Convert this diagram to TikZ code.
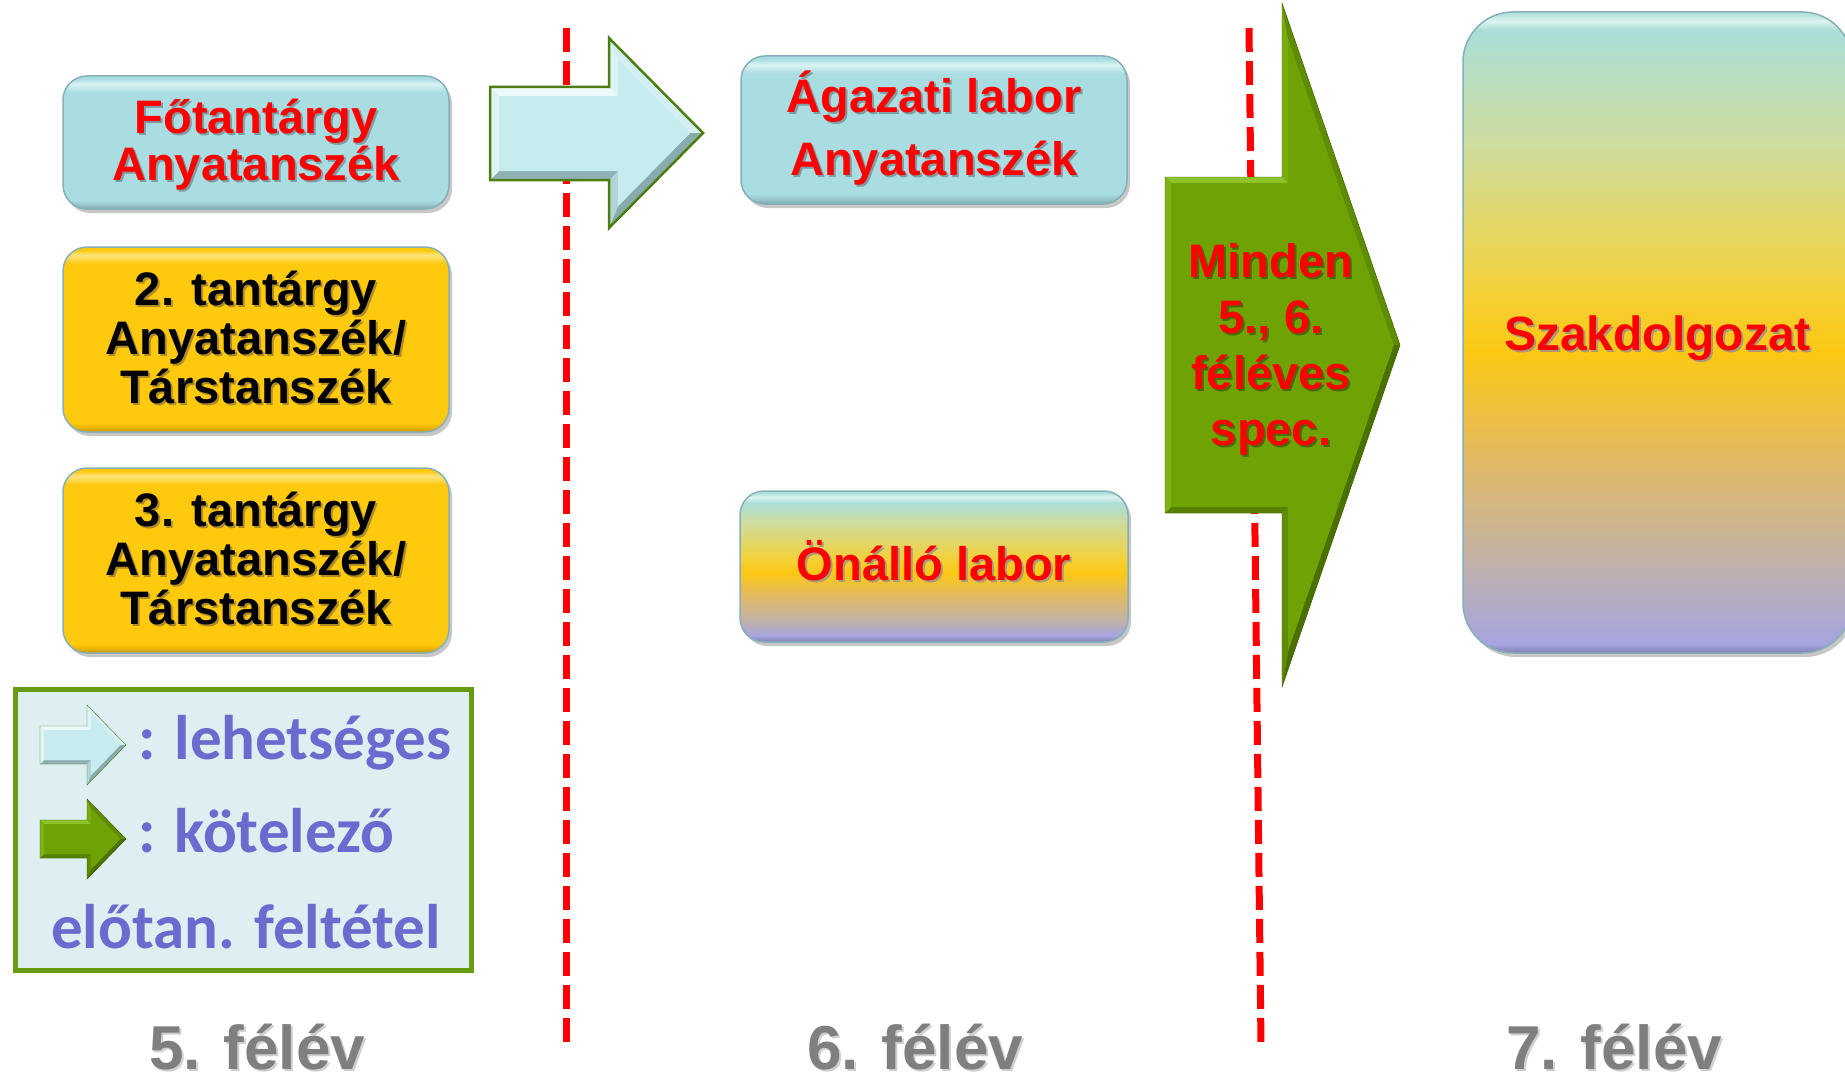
\documentclass[tikz,border=0pt]{standalone}
\usepackage{fontspec}
\setmainfont{Liberation Sans}
\newfontfamily\calfont{Carlito}
\usetikzlibrary{shadows}

% box colours
\definecolor{blBase}{HTML}{A9DDE1}
\definecolor{blTop}{HTML}{DAF3F5}
\definecolor{blBotM}{HTML}{95C5CB}
\definecolor{blBot}{HTML}{7AA9B0}
\definecolor{yBase}{HTML}{FFC90D}
\definecolor{yTop}{HTML}{FFE47E}
\definecolor{yBotM}{HTML}{E8B400}
\definecolor{yBot}{HTML}{C29500}
\definecolor{mBotE}{HTML}{8080B2}
\definecolor{mLav}{HTML}{A5A5E0}
\definecolor{mLtwo}{HTML}{C3B2A5}
\definecolor{mTan}{HTML}{E1B964}
\definecolor{mGold}{HTML}{FCC814}
\definecolor{mYel}{HTML}{F5D037}
\definecolor{mYG}{HTML}{E4D664}
\definecolor{mGr}{HTML}{CDDCA0}
\definecolor{mAqua}{HTML}{AADED8}
\definecolor{mTopH}{HTML}{DDF3F0}
\definecolor{edgeC}{HTML}{86B0B8}
% text colours
\definecolor{legC}{HTML}{6B6BCF}
\definecolor{semC}{HTML}{7F7F7F}
\definecolor{shBlue}{HTML}{7E9EA3}
\definecolor{shY}{HTML}{B08C28}
\definecolor{shG}{HTML}{4A6A10}
\definecolor{shM}{HTML}{AA9A78}
\definecolor{shW}{HTML}{CFCFCF}
\colorlet{shc}{shBlue}
% legend
\definecolor{lgGreen}{HTML}{689C10}
\definecolor{lgFill}{HTML}{DDEFF1}
% light arrow faces
\definecolor{labase}{HTML}{C6ECEF}
\definecolor{latop}{HTML}{EDFAFB}
\definecolor{laleft}{HTML}{DDF3F5}
\definecolor{labc}{HTML}{DDF3F5}
\definecolor{lact}{HTML}{D3EFF1}
\definecolor{late}{HTML}{8AABAE}
\definecolor{laef}{HTML}{B3D5D8}
\definecolor{labot}{HTML}{8FB1B4}
\definecolor{laline}{HTML}{4E7D10}
% green arrow faces
\definecolor{gabase}{HTML}{6FA204}
\definecolor{gatop}{HTML}{8DC22A}
\definecolor{galeft}{HTML}{7DB312}
\definecolor{gabc}{HTML}{79AD0F}
\definecolor{gact}{HTML}{5E8C02}
\definecolor{gate}{HTML}{4A7000}
\definecolor{gaef}{HTML}{5E8C03}
\definecolor{gabot}{HTML}{557F05}
\definecolor{galine}{HTML}{3D5C00}

\pgfdeclareverticalshading{blueshade}{100bp}{color(0bp)=(blBot); color(25bp)=(blBot); color(26.5bp)=(blBotM); color(28.5bp)=(blBase); color(69bp)=(blBase); color(72bp)=(blTop); color(74bp)=(blBase); color(75bp)=(blBase); color(100bp)=(blBase)}
\pgfdeclareverticalshading{yellowshade}{100bp}{color(0bp)=(yBot); color(25bp)=(yBot); color(26.2bp)=(yBotM); color(27.5bp)=(yBase); color(70.5bp)=(yBase); color(72.8bp)=(yTop); color(74.2bp)=(yBase); color(75bp)=(yBase); color(100bp)=(yBase)}
\pgfdeclareverticalshading{multishadeA}{100bp}{color(0bp)=(mBotE); color(25bp)=(mBotE); color(27bp)=(mLav); color(32.5bp)=(mLtwo); color(40bp)=(mTan); color(48bp)=(mGold); color(52.5bp)=(mYel); color(57.5bp)=(mYG); color(65bp)=(mGr); color(71bp)=(mAqua); color(73bp)=(mTopH); color(74.5bp)=(mAqua); color(100bp)=(mAqua)}
\pgfdeclareverticalshading{multishadeB}{100bp}{color(0bp)=(mBotE); color(25bp)=(mBotE); color(25.7bp)=(mLav); color(32.5bp)=(mLtwo); color(40bp)=(mTan); color(48.5bp)=(mGold); color(53bp)=(mYel); color(58bp)=(mYG); color(65bp)=(mGr); color(73.6bp)=(mAqua); color(74.3bp)=(mTopH); color(75bp)=(mAqua); color(100bp)=(mAqua)}

\newcommand\sh[1]{\leavevmode\rlap{\kern2pt\raisebox{-2pt}{\textcolor{shc}{#1}}}#1}
\newcommand\txl[1]{\rule[-0.2\baselineskip]{0pt}{\baselineskip}\smash{\sh{#1}}}
\newcommand\txlx[3]{\rule[-\dimexpr0.2\baselineskip+#2\relax]{0pt}{\dimexpr\baselineskip+#1+#2\relax}\smash{\sh{#3}}}

\newcommand\bevelarrow[2]{%
  \fill[#2base] (#1A) -- (#1B) -- (#1C) -- (#1T) -- (#1E) -- (#1F) -- (#1G) -- cycle;
  \fill[#2top] (#1A) -- (#1B) -- (#1Bi) -- (#1Ai) -- cycle;
  \fill[#2bc] (#1B) -- (#1C) -- (#1Ci) -- (#1Bi) -- cycle;
  \fill[#2ct] (#1C) -- (#1T) -- (#1Ti) -- (#1Ci) -- cycle;
  \fill[#2te] (#1T) -- (#1E) -- (#1Ei) -- (#1Ti) -- cycle;
  \fill[#2ef] (#1E) -- (#1F) -- (#1Fi) -- (#1Ei) -- cycle;
  \fill[#2bot] (#1F) -- (#1G) -- (#1Gi) -- (#1Fi) -- cycle;
  \fill[#2left] (#1G) -- (#1A) -- (#1Ai) -- (#1Gi) -- cycle;
  \fill[#2base] (#1Ai) -- (#1Bi) -- (#1Ci) -- (#1Ti) -- (#1Ei) -- (#1Fi) -- (#1Gi) -- cycle;
  \draw[#2line, line join=miter] (#1A) -- (#1B) -- (#1C) -- (#1T) -- (#1E) -- (#1F) -- (#1G) -- cycle;
}

\begin{document}
\begin{tikzpicture}[x=1pt,y=-1pt,
  reddash/.style={draw=red, line width=7pt, dash pattern=on 24pt off 9pt},
  boxbase/.style={rounded corners=24pt, draw=edgeC, line width=1.5pt, inner sep=0pt, align=center,
    drop shadow={shadow xshift=3pt, shadow yshift=-4pt, opacity=0.22, fill=black}},
  bluebox/.style={boxbase, shade, shading=blueshade, text=red, minimum width=386pt},
  yellowbox/.style={boxbase, shade, shading=yellowshade, text=black, minimum width=386pt,
    minimum height=185pt, font={\fontsize{47}{49}\selectfont\bfseries\colorlet{shc}{shY}}},
  legtext/.style={text=legC, inner sep=0pt, font={\fontsize{63}{63}\selectfont\calfont\bfseries}},
  semtext/.style={text=semC, inner sep=0pt, anchor=base, font={\fontsize{62}{62}\selectfont\bfseries\colorlet{shc}{shW}}}
]
\useasboundingbox (0,0) rectangle (1845,1081);
\fill[white] (0,0) rectangle (1845,1081);

% semester dividers
\coordinate (d1t) at (566,28);
\coordinate (d1b) at (566,1044);
\coordinate (d2t) at (1249,28);
\coordinate (d2b) at (1261,1044);
\draw[reddash] (d1t) -- (d1b);
\draw[reddash] (d2t) -- (d2b);

% 5th semester boxes
\node[bluebox, minimum height=133pt, font={\fontsize{47}{47}\selectfont\bfseries\colorlet{shc}{shBlue}}]
  (fo) at (256,142.5) {\txl{Főtantárgy}\\\txl{Anyatanszék}};
\node[yellowbox] (t2) at (256,339.5) {\txl{2. tantárgy}\\\txl{Anyatanszék/}\\\txl{Társtanszék}};
\node[yellowbox] (t3) at (256,560.5) {\txl{3. tantárgy}\\\txl{Anyatanszék/}\\\txl{Társtanszék}};

% 6th semester boxes
\node[bluebox, minimum width=386pt, minimum height=148pt, font={\fontsize{47}{63}\selectfont\bfseries\colorlet{shc}{shBlue}}]
  (ag) at (934,130) {\txl{Ágazati labor}\\\txlx{0pt}{10.8pt}{Anyatanszék}};
\node[boxbase, shade, shading=multishadeA, text=red, minimum width=388pt, minimum height=151pt,
  font={\fontsize{47}{48}\selectfont\bfseries\colorlet{shc}{shM}}]
  (on) at (934,566.5) {\txl{Önálló labor}};

% 7th semester box
\node[boxbase, rounded corners=50pt, shade, shading=multishadeB, text=red, minimum width=389pt, minimum height=641pt,
  font={\fontsize{48}{48}\selectfont\bfseries\colorlet{shc}{shM}}]
  (sz) at (1657.5,332.5) {\txlx{6.2pt}{0pt}{Szakdolgozat}};

% light (possible) arrow
\coordinate (laA) at (490,87);  \coordinate (laAi) at (499,96);
\coordinate (laB) at (609,87);  \coordinate (laBi) at (618,96);
\coordinate (laC) at (609,38);  \coordinate (laCi) at (618,59.9);
\coordinate (laT) at (703,133); \coordinate (laTi) at (690.3,133);
\coordinate (laE) at (609,228); \coordinate (laEi) at (618,206.1);
\coordinate (laF) at (609,180); \coordinate (laFi) at (618,171);
\coordinate (laG) at (490,180); \coordinate (laGi) at (499,171);
\bevelarrow{la}{la}
\draw[laline, line width=2.5pt, line join=miter] (laA) -- (laB) -- (laC) -- (laT) -- (laE) -- (laF) -- (laG) -- cycle;

% green (mandatory) arrow
\coordinate (gaA) at (1165,177);  \coordinate (gaAi) at (1171,183);
\coordinate (gaB) at (1282,177);  \coordinate (gaBi) at (1288,183);
\coordinate (gaC) at (1282,3);    \coordinate (gaCi) at (1288,38.8);
\coordinate (gaT) at (1400,345);  \coordinate (gaTi) at (1393.7,345);
\coordinate (gaE) at (1282,687);  \coordinate (gaEi) at (1288,651.2);
\coordinate (gaF) at (1282,513);  \coordinate (gaFi) at (1288,507);
\coordinate (gaG) at (1165,513);  \coordinate (gaGi) at (1171,507);
\bevelarrow{ga}{ga}
\node[text=red, align=center, inner sep=0pt,
  font={\fontsize{47}{56.3}\selectfont\bfseries\colorlet{shc}{shG}}]
  (minden) at (1271,344.6) {\txl{Minden}\\\txl{5., 6.}\\\txl{féléves}\\\txl{spec.}};

% legend
\node[draw=lgGreen, line width=5pt, fill=lgFill, minimum width=456pt, minimum height=281pt, inner sep=0pt]
  (legend) at (243.5,830) {};
\coordinate (l1A) at (40,726);   \coordinate (l1Ai) at (44,730);
\coordinate (l1B) at (87,726);   \coordinate (l1Bi) at (91,730);
\coordinate (l1C) at (87,705);   \coordinate (l1Ci) at (91,714.8);
\coordinate (l1T) at (126,745);  \coordinate (l1Ti) at (120.4,745);
\coordinate (l1E) at (87,785);   \coordinate (l1Ei) at (91,775.2);
\coordinate (l1F) at (87,764);   \coordinate (l1Fi) at (91,760);
\coordinate (l1G) at (40,764);   \coordinate (l1Gi) at (44,760);
\bevelarrow{l1}{la}
\coordinate (l2A) at (40,820);   \coordinate (l2Ai) at (44,824);
\coordinate (l2B) at (87,820);   \coordinate (l2Bi) at (91,824);
\coordinate (l2C) at (87,799);   \coordinate (l2Ci) at (91,808.8);
\coordinate (l2T) at (126,839);  \coordinate (l2Ti) at (120.4,839);
\coordinate (l2E) at (87,879);   \coordinate (l2Ei) at (91,869.2);
\coordinate (l2F) at (87,858);   \coordinate (l2Fi) at (91,854);
\coordinate (l2G) at (40,858);   \coordinate (l2Gi) at (44,854);
\bevelarrow{l2}{ga}
\node[legtext, anchor=base west] (leg1) at (138,759) {: lehetséges};
\node[legtext, anchor=base west] (leg2) at (138,852) {: kötelező};
\node[legtext, anchor=base] (leg3) at (246,948) {előtan. feltétel};

% semester labels
\node[semtext] (s5) at (257,1069) {\sh{5. félév}};
\node[semtext] (s6) at (915,1069) {\sh{6. félév}};
\node[semtext] (s7) at (1614,1069) {\sh{7. félév}};
\end{tikzpicture}
\end{document}
